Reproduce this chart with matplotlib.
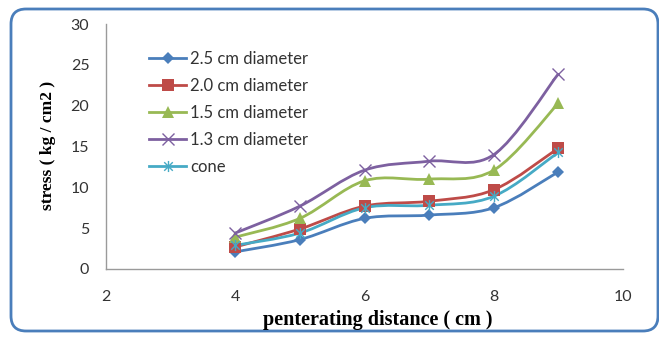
import matplotlib
matplotlib.use("Agg")
import matplotlib.pyplot as plt
from matplotlib.path import Path
from matplotlib.patches import PathPatch, FancyBboxPatch
from matplotlib.lines import Line2D

# penetration distance (cm) and stress (kg/cm2) for each probe
distance = [4, 5, 6, 7, 8, 9]
d25 = [2.1, 3.6, 6.2, 6.6, 7.5, 11.9]
d20 = [2.7, 4.9, 7.7, 8.3, 9.7, 14.8]
d15 = [3.9, 6.2, 10.8, 11.0, 12.1, 20.3]
d13 = [4.4, 7.7, 12.1, 13.2, 14.0, 23.9]
cone = [2.9, 4.4, 7.5, 7.8, 8.9, 14.3]

labels = ["2.5 cm diameter", "2.0 cm diameter", "1.5 cm diameter",
          "1.3 cm diameter", "cone"]
series = [d25, d20, d15, d13, cone]
colors = ["#4A7EBB", "#BE4B48", "#98B954", "#7D60A0", "#46AAC5"]

# six-armed star marker (x with a vertical stroke)
star = Path([(-1, -1), (1, 1), (-1, 1), (1, -1), (0, -1.3), (0, 1.3)],
            [Path.MOVETO, Path.LINETO, Path.MOVETO, Path.LINETO,
             Path.MOVETO, Path.LINETO])
markers = ["D", "s", "^", "x", star]
msizes = [6.5, 8, 8, 9, 8]
mew = [0, 0, 0, 1.0, 1.0]


def smooth_path(xs, ys):
    # cubic bezier through the points, catmull-rom style control points
    pts = list(zip(xs, ys))
    n = len(pts)
    verts = [pts[0]]
    codes = [Path.MOVETO]
    for i in range(n - 1):
        p0 = pts[i - 1] if i > 0 else pts[i]
        p1 = pts[i]
        p2 = pts[i + 1]
        p3 = pts[i + 2] if i + 2 < n else pts[i + 1]
        c1 = (p1[0] + (p2[0] - p0[0]) / 6, p1[1] + (p2[1] - p0[1]) / 6)
        c2 = (p2[0] - (p3[0] - p1[0]) / 6, p2[1] - (p3[1] - p1[1]) / 6)
        verts += [c1, c2, p2]
        codes += [Path.CURVE4] * 3
    return Path(verts, codes)


fig = plt.figure(figsize=(6.59, 3.38), dpi=100)
ax = fig.add_axes([106 / 659, 1 - 269 / 338, 517 / 659, 245 / 338])

handles = []
for ys, lab, c, m, ms, ew in zip(series, labels, colors, markers, msizes, mew):
    ax.add_patch(PathPatch(smooth_path(distance, ys), fill=False,
                           edgecolor=c, lw=2.0, zorder=2))
    ax.plot(distance, ys, ls="none", marker=m, ms=ms, color=c,
            mec=c, mew=ew, zorder=3)
    handles.append(Line2D([], [], color=c, lw=2.0, marker=m, ms=ms,
                          mec=c, mew=ew))

ax.set_xlim(2, 10)
ax.set_ylim(0, 30)
ax.set_xticks([2, 4, 6, 8, 10])
ax.set_yticks(range(0, 31, 5))

for side in ["top", "right"]:
    ax.spines[side].set_visible(False)
for side in ["left", "bottom"]:
    ax.spines[side].set_color("#9a9a9a")
    ax.spines[side].set_linewidth(1.0)

ax.tick_params(length=0, labelsize=11.5, labelcolor="#333333")
ax.tick_params(axis="x", pad=15)
ax.tick_params(axis="y", pad=12)
for t in ax.get_xticklabels() + ax.get_yticklabels():
    t.set_fontfamily("Lato")

fig.text(48 / 659, 1 - 145 / 338, "stress ( kg / cm2 )", rotation=90,
         ha="center", va="center", family="Liberation Serif",
         fontweight="bold", fontsize=12.5)
fig.text(378 / 659, 1 - 320 / 338, "penterating distance ( cm )",
         ha="center", va="center", family="Liberation Serif",
         fontweight="bold", fontsize=14.5)

leg = ax.legend(handles, labels, loc="upper left",
                bbox_to_anchor=(141 / 659, 1 - 42.5 / 338),
                bbox_transform=fig.transFigure, frameon=False,
                prop={"family": "Lato", "size": 12}, handlelength=2.2,
                handletextpad=0.25, labelspacing=0.66, borderpad=0)
for t in leg.get_texts():
    t.set_color("#333333")

# rounded blue border around the chart
frame = FancyBboxPatch((0.11, 0.07), 6.47, 3.22,
                       boxstyle="round,pad=0,rounding_size=0.15",
                       transform=fig.dpi_scale_trans, fill=False,
                       edgecolor="#4A7EBB", lw=2.0)
fig.patches.append(frame)

fig.savefig("out.png", dpi=100)
